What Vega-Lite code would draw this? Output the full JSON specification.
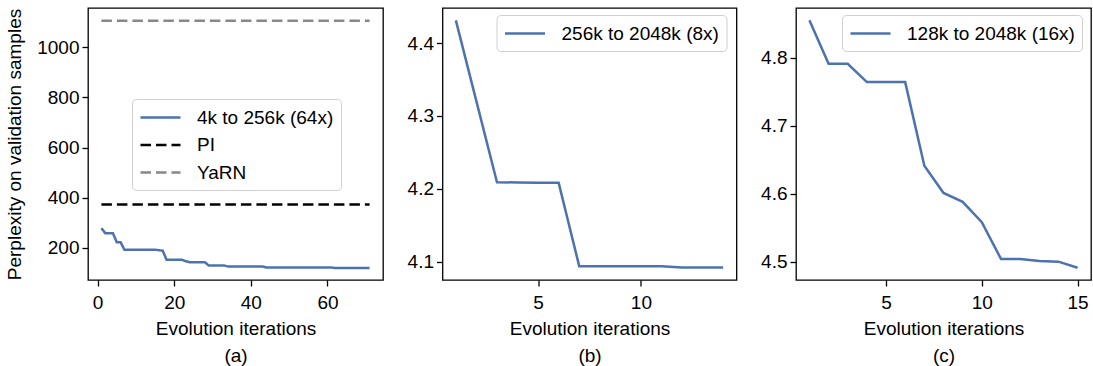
{
  "$schema": "https://vega.github.io/schema/vega-lite/v6.json",
  "autosize": {"type": "pad"},
  "padding": {"left": 5, "top": 7, "right": 0, "bottom": 0},
  "background": "white",
  "bounds": "flush",
  "spacing": 59.5,
  "config": {
    "view": {"stroke": "black", "strokeWidth": 1.3},
    "font": "Liberation Sans",
    "axis": {
      "domain": false, "grid": false,
      "ticks": true, "tickColor": "black", "tickSize": 6, "tickWidth": 1.3,
      "labelFont": "Liberation Sans", "labelFontSize": 19, "labelColor": "black", "labelPadding": 3,
      "titleFont": "Liberation Sans", "titleFontSize": 19, "titleFontWeight": "normal", "titleColor": "black"
    },
    "legend": {
      "labelFont": "Liberation Sans", "labelFontSize": 19, "labelColor": "black", "labelLimit": 400,
      "symbolType": "M-1,0H3", "symbolSize": 400, "symbolStrokeWidth": 2.5,
      "strokeColor": "#d0d0d0", "fillColor": "white", "cornerRadius": 4,
      "padding": 7, "labelOffset": 35, "rowPadding": 5.5, "orient": "none"
    },
    "line": {"strokeWidth": 2.5}
  },
  "resolve": {"scale": {"color": "independent", "strokeDash": "independent", "x": "independent", "y": "independent"}, "legend": {"color": "independent", "strokeDash": "independent"}},
  "hconcat": [
    {
      "width": 295, "height": 272,
      "data": {"values": [
        {"it": 1, "ppl": 278, "s": "4k to 256k (64x)"},
        {"it": 2, "ppl": 258, "s": "4k to 256k (64x)"},
        {"it": 3, "ppl": 258, "s": "4k to 256k (64x)"},
        {"it": 4, "ppl": 258, "s": "4k to 256k (64x)"},
        {"it": 5, "ppl": 222, "s": "4k to 256k (64x)"},
        {"it": 6, "ppl": 222, "s": "4k to 256k (64x)"},
        {"it": 7, "ppl": 192, "s": "4k to 256k (64x)"},
        {"it": 8, "ppl": 192, "s": "4k to 256k (64x)"},
        {"it": 9, "ppl": 192, "s": "4k to 256k (64x)"},
        {"it": 10, "ppl": 192, "s": "4k to 256k (64x)"},
        {"it": 11, "ppl": 192, "s": "4k to 256k (64x)"},
        {"it": 12, "ppl": 192, "s": "4k to 256k (64x)"},
        {"it": 13, "ppl": 192, "s": "4k to 256k (64x)"},
        {"it": 14, "ppl": 192, "s": "4k to 256k (64x)"},
        {"it": 15, "ppl": 192, "s": "4k to 256k (64x)"},
        {"it": 16, "ppl": 190, "s": "4k to 256k (64x)"},
        {"it": 17, "ppl": 188, "s": "4k to 256k (64x)"},
        {"it": 18, "ppl": 152, "s": "4k to 256k (64x)"},
        {"it": 19, "ppl": 152, "s": "4k to 256k (64x)"},
        {"it": 20, "ppl": 152, "s": "4k to 256k (64x)"},
        {"it": 21, "ppl": 152, "s": "4k to 256k (64x)"},
        {"it": 22, "ppl": 152, "s": "4k to 256k (64x)"},
        {"it": 23, "ppl": 146, "s": "4k to 256k (64x)"},
        {"it": 24, "ppl": 142, "s": "4k to 256k (64x)"},
        {"it": 25, "ppl": 142, "s": "4k to 256k (64x)"},
        {"it": 26, "ppl": 142, "s": "4k to 256k (64x)"},
        {"it": 27, "ppl": 142, "s": "4k to 256k (64x)"},
        {"it": 28, "ppl": 142, "s": "4k to 256k (64x)"},
        {"it": 29, "ppl": 129, "s": "4k to 256k (64x)"},
        {"it": 30, "ppl": 129, "s": "4k to 256k (64x)"},
        {"it": 31, "ppl": 129, "s": "4k to 256k (64x)"},
        {"it": 32, "ppl": 129, "s": "4k to 256k (64x)"},
        {"it": 33, "ppl": 129, "s": "4k to 256k (64x)"},
        {"it": 34, "ppl": 125, "s": "4k to 256k (64x)"},
        {"it": 35, "ppl": 125, "s": "4k to 256k (64x)"},
        {"it": 36, "ppl": 125, "s": "4k to 256k (64x)"},
        {"it": 37, "ppl": 125, "s": "4k to 256k (64x)"},
        {"it": 38, "ppl": 125, "s": "4k to 256k (64x)"},
        {"it": 39, "ppl": 125, "s": "4k to 256k (64x)"},
        {"it": 40, "ppl": 125, "s": "4k to 256k (64x)"},
        {"it": 41, "ppl": 125, "s": "4k to 256k (64x)"},
        {"it": 42, "ppl": 125, "s": "4k to 256k (64x)"},
        {"it": 43, "ppl": 125, "s": "4k to 256k (64x)"},
        {"it": 44, "ppl": 121, "s": "4k to 256k (64x)"},
        {"it": 45, "ppl": 121, "s": "4k to 256k (64x)"},
        {"it": 46, "ppl": 121, "s": "4k to 256k (64x)"},
        {"it": 47, "ppl": 121, "s": "4k to 256k (64x)"},
        {"it": 48, "ppl": 121, "s": "4k to 256k (64x)"},
        {"it": 49, "ppl": 121, "s": "4k to 256k (64x)"},
        {"it": 50, "ppl": 121, "s": "4k to 256k (64x)"},
        {"it": 51, "ppl": 121, "s": "4k to 256k (64x)"},
        {"it": 52, "ppl": 121, "s": "4k to 256k (64x)"},
        {"it": 53, "ppl": 121, "s": "4k to 256k (64x)"},
        {"it": 54, "ppl": 121, "s": "4k to 256k (64x)"},
        {"it": 55, "ppl": 121, "s": "4k to 256k (64x)"},
        {"it": 56, "ppl": 121, "s": "4k to 256k (64x)"},
        {"it": 57, "ppl": 121, "s": "4k to 256k (64x)"},
        {"it": 58, "ppl": 121, "s": "4k to 256k (64x)"},
        {"it": 59, "ppl": 121, "s": "4k to 256k (64x)"},
        {"it": 60, "ppl": 121, "s": "4k to 256k (64x)"},
        {"it": 61, "ppl": 121, "s": "4k to 256k (64x)"},
        {"it": 62, "ppl": 119, "s": "4k to 256k (64x)"},
        {"it": 63, "ppl": 119, "s": "4k to 256k (64x)"},
        {"it": 64, "ppl": 119, "s": "4k to 256k (64x)"},
        {"it": 65, "ppl": 119, "s": "4k to 256k (64x)"},
        {"it": 66, "ppl": 119, "s": "4k to 256k (64x)"},
        {"it": 67, "ppl": 119, "s": "4k to 256k (64x)"},
        {"it": 68, "ppl": 119, "s": "4k to 256k (64x)"},
        {"it": 69, "ppl": 119, "s": "4k to 256k (64x)"},
        {"it": 70, "ppl": 119, "s": "4k to 256k (64x)"},
        {"it": 71, "ppl": 119, "s": "4k to 256k (64x)"},
        {"it": 1, "ppl": 372, "s": "PI"},
        {"it": 71, "ppl": 372, "s": "PI"},
        {"it": 1, "ppl": 1106, "s": "YaRN"},
        {"it": 71, "ppl": 1106, "s": "YaRN"}
      ]},
      "mark": {"type": "line", "strokeWidth": 2.5},
      "encoding": {
        "x": {"field": "it", "type": "quantitative", "scale": {"domain": [-2.5, 74.5], "nice": false, "zero": false},
              "axis": {"values": [0, 20, 40, 60], "labelPadding": 7, "title": ["Evolution iterations", "(a)"], "titleLineHeight": 27, "titlePadding": 7}},
        "y": {"field": "ppl", "type": "quantitative", "scale": {"domain": [71, 1157], "nice": false, "zero": false},
              "axis": {"values": [200, 400, 600, 800, 1000], "format": "d", "title": "Perplexity on validation samples", "titlePadding": 12}},
        "color": {"field": "s", "type": "nominal",
                  "scale": {"domain": ["4k to 256k (64x)", "PI", "YaRN"], "range": ["#4c72b0", "#000000", "#888888"]},
                  "legend": {"title": null, "legendX": 44, "legendY": 91}},
        "strokeDash": {"field": "s", "type": "nominal",
                  "scale": {"domain": ["4k to 256k (64x)", "PI", "YaRN"], "range": [[1, 0], [10.5, 5], [10.5, 5]]},
                  "legend": {"title": null, "legendX": 44, "legendY": 91}}
      }
    },
    {
      "width": 294, "height": 272,
      "data": {"values": [
        {"it": 1, "ppl": 4.431, "s": "256k to 2048k (8x)"},
        {"it": 2, "ppl": 4.320, "s": "256k to 2048k (8x)"},
        {"it": 3, "ppl": 4.209, "s": "256k to 2048k (8x)"},
        {"it": 4, "ppl": 4.2088, "s": "256k to 2048k (8x)"},
        {"it": 5, "ppl": 4.2083, "s": "256k to 2048k (8x)"},
        {"it": 6, "ppl": 4.2082, "s": "256k to 2048k (8x)"},
        {"it": 7, "ppl": 4.094, "s": "256k to 2048k (8x)"},
        {"it": 8, "ppl": 4.094, "s": "256k to 2048k (8x)"},
        {"it": 9, "ppl": 4.094, "s": "256k to 2048k (8x)"},
        {"it": 10, "ppl": 4.094, "s": "256k to 2048k (8x)"},
        {"it": 11, "ppl": 4.094, "s": "256k to 2048k (8x)"},
        {"it": 12, "ppl": 4.0923, "s": "256k to 2048k (8x)"},
        {"it": 13, "ppl": 4.0922, "s": "256k to 2048k (8x)"},
        {"it": 14, "ppl": 4.0921, "s": "256k to 2048k (8x)"}
      ]},
      "mark": {"type": "line", "strokeWidth": 2.5},
      "encoding": {
        "x": {"field": "it", "type": "quantitative", "scale": {"domain": [0.35, 14.65], "nice": false, "zero": false},
              "axis": {"values": [5, 10], "labelPadding": 7, "title": ["Evolution iterations", "(b)"], "titleLineHeight": 27, "titlePadding": 7}},
        "y": {"field": "ppl", "type": "quantitative", "scale": {"domain": [4.075, 4.448], "nice": false, "zero": false},
              "axis": {"values": [4.1, 4.2, 4.3, 4.4], "format": ".1f", "title": null}},
        "color": {"field": "s", "type": "nominal", "scale": {"range": ["#4c72b0"]},
                  "legend": {"title": null, "legendX": 54, "legendY": 7}}
      }
    },
    {
      "width": 295, "height": 272,
      "data": {"values": [
        {"it": 1, "ppl": 4.855, "s": "128k to 2048k (16x)"},
        {"it": 2, "ppl": 4.791, "s": "128k to 2048k (16x)"},
        {"it": 3, "ppl": 4.791, "s": "128k to 2048k (16x)"},
        {"it": 4, "ppl": 4.764, "s": "128k to 2048k (16x)"},
        {"it": 5, "ppl": 4.764, "s": "128k to 2048k (16x)"},
        {"it": 6, "ppl": 4.764, "s": "128k to 2048k (16x)"},
        {"it": 7, "ppl": 4.641, "s": "128k to 2048k (16x)"},
        {"it": 8, "ppl": 4.601, "s": "128k to 2048k (16x)"},
        {"it": 9, "ppl": 4.588, "s": "128k to 2048k (16x)"},
        {"it": 10, "ppl": 4.558, "s": "128k to 2048k (16x)"},
        {"it": 11, "ppl": 4.504, "s": "128k to 2048k (16x)"},
        {"it": 12, "ppl": 4.504, "s": "128k to 2048k (16x)"},
        {"it": 13, "ppl": 4.501, "s": "128k to 2048k (16x)"},
        {"it": 14, "ppl": 4.500, "s": "128k to 2048k (16x)"},
        {"it": 15, "ppl": 4.491, "s": "128k to 2048k (16x)"}
      ]},
      "mark": {"type": "line", "strokeWidth": 2.5},
      "encoding": {
        "x": {"field": "it", "type": "quantitative", "scale": {"domain": [0.3, 15.7], "nice": false, "zero": false},
              "axis": {"values": [5, 10, 15], "labelPadding": 7, "title": ["Evolution iterations", "(c)"], "titleLineHeight": 27, "titlePadding": 7}},
        "y": {"field": "ppl", "type": "quantitative", "scale": {"domain": [4.473, 4.873], "nice": false, "zero": false},
              "axis": {"values": [4.5, 4.6, 4.7, 4.8], "format": ".1f", "title": null}},
        "color": {"field": "s", "type": "nominal", "scale": {"range": ["#4c72b0"]},
                  "legend": {"title": null, "legendX": 46, "legendY": 7}}
      }
    }
  ]
}
